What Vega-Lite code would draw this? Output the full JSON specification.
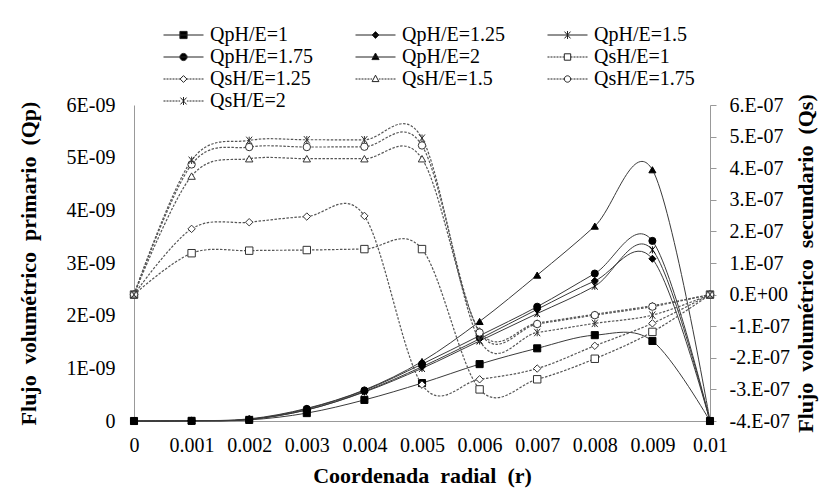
{
  "$schema": "https://vega.github.io/schema/vega-lite/v6.json",
  "width": 576,
  "height": 316,
  "autosize": {"type": "none"},
  "padding": {"left": 134, "top": 105, "right": 114, "bottom": 74},
  "background": "white",
  "config": {
    "font": "Liberation Serif",
    "view": {"stroke": null},
    "axis": {
      "labelFont": "Liberation Serif", "labelFontSize": 20, "labelColor": "#000",
      "titleFont": "Liberation Serif", "titleFontSize": 22, "titleFontWeight": "bold", "titleColor": "#000",
      "grid": false, "domainColor": "#999", "tickColor": "#999", "labelFlush": false, "labelOverlap": false
    }
  },
  "data": {"values": [
    {"r":0,"s":"QpH/E=1","t":"Qp","q":0},{"r":0.001,"s":"QpH/E=1","t":"Qp","q":3e-12},{"r":0.002,"s":"QpH/E=1","t":"Qp","q":2e-11},{"r":0.003,"s":"QpH/E=1","t":"Qp","q":1.5e-10},{"r":0.004,"s":"QpH/E=1","t":"Qp","q":4.0e-10},{"r":0.005,"s":"QpH/E=1","t":"Qp","q":7.2e-10},{"r":0.006,"s":"QpH/E=1","t":"Qp","q":1.08e-9},{"r":0.007,"s":"QpH/E=1","t":"Qp","q":1.38e-9},{"r":0.008,"s":"QpH/E=1","t":"Qp","q":1.63e-9},{"r":0.009,"s":"QpH/E=1","t":"Qp","q":1.52e-9},{"r":0.01,"s":"QpH/E=1","t":"Qp","q":0},
    {"r":0,"s":"QpH/E=1.25","t":"Qp","q":0},{"r":0.001,"s":"QpH/E=1.25","t":"Qp","q":4e-12},{"r":0.002,"s":"QpH/E=1.25","t":"Qp","q":3e-11},{"r":0.003,"s":"QpH/E=1.25","t":"Qp","q":2.1e-10},{"r":0.004,"s":"QpH/E=1.25","t":"Qp","q":5.6e-10},{"r":0.005,"s":"QpH/E=1.25","t":"Qp","q":1.03e-9},{"r":0.006,"s":"QpH/E=1.25","t":"Qp","q":1.56e-9},{"r":0.007,"s":"QpH/E=1.25","t":"Qp","q":2.12e-9},{"r":0.008,"s":"QpH/E=1.25","t":"Qp","q":2.66e-9},{"r":0.009,"s":"QpH/E=1.25","t":"Qp","q":3.08e-9},{"r":0.01,"s":"QpH/E=1.25","t":"Qp","q":0},
    {"r":0,"s":"QpH/E=1.5","t":"Qp","q":0},{"r":0.001,"s":"QpH/E=1.5","t":"Qp","q":4e-12},{"r":0.002,"s":"QpH/E=1.5","t":"Qp","q":3e-11},{"r":0.003,"s":"QpH/E=1.5","t":"Qp","q":2.1e-10},{"r":0.004,"s":"QpH/E=1.5","t":"Qp","q":5.5e-10},{"r":0.005,"s":"QpH/E=1.5","t":"Qp","q":1.0e-9},{"r":0.006,"s":"QpH/E=1.5","t":"Qp","q":1.52e-9},{"r":0.007,"s":"QpH/E=1.5","t":"Qp","q":2.04e-9},{"r":0.008,"s":"QpH/E=1.5","t":"Qp","q":2.56e-9},{"r":0.009,"s":"QpH/E=1.5","t":"Qp","q":3.25e-9},{"r":0.01,"s":"QpH/E=1.5","t":"Qp","q":0},
    {"r":0,"s":"QpH/E=1.75","t":"Qp","q":0},{"r":0.001,"s":"QpH/E=1.75","t":"Qp","q":4e-12},{"r":0.002,"s":"QpH/E=1.75","t":"Qp","q":3e-11},{"r":0.003,"s":"QpH/E=1.75","t":"Qp","q":2.3e-10},{"r":0.004,"s":"QpH/E=1.75","t":"Qp","q":5.8e-10},{"r":0.005,"s":"QpH/E=1.75","t":"Qp","q":1.08e-9},{"r":0.006,"s":"QpH/E=1.75","t":"Qp","q":1.62e-9},{"r":0.007,"s":"QpH/E=1.75","t":"Qp","q":2.17e-9},{"r":0.008,"s":"QpH/E=1.75","t":"Qp","q":2.80e-9},{"r":0.009,"s":"QpH/E=1.75","t":"Qp","q":3.42e-9},{"r":0.01,"s":"QpH/E=1.75","t":"Qp","q":0},
    {"r":0,"s":"QpH/E=2","t":"Qp","q":0},{"r":0.001,"s":"QpH/E=2","t":"Qp","q":5e-12},{"r":0.002,"s":"QpH/E=2","t":"Qp","q":4e-11},{"r":0.003,"s":"QpH/E=2","t":"Qp","q":2.4e-10},{"r":0.004,"s":"QpH/E=2","t":"Qp","q":5.9e-10},{"r":0.005,"s":"QpH/E=2","t":"Qp","q":1.13e-9},{"r":0.006,"s":"QpH/E=2","t":"Qp","q":1.89e-9},{"r":0.007,"s":"QpH/E=2","t":"Qp","q":2.77e-9},{"r":0.008,"s":"QpH/E=2","t":"Qp","q":3.70e-9},{"r":0.009,"s":"QpH/E=2","t":"Qp","q":4.77e-9},{"r":0.01,"s":"QpH/E=2","t":"Qp","q":0},
    {"r":0,"s":"QsH/E=1","t":"Qs","q":0},{"r":0.001,"s":"QsH/E=1","t":"Qs","q":1.31e-7},{"r":0.002,"s":"QsH/E=1","t":"Qs","q":1.39e-7},{"r":0.003,"s":"QsH/E=1","t":"Qs","q":1.41e-7},{"r":0.004,"s":"QsH/E=1","t":"Qs","q":1.44e-7},{"r":0.005,"s":"QsH/E=1","t":"Qs","q":1.44e-7},{"r":0.006,"s":"QsH/E=1","t":"Qs","q":-3.0e-7},{"r":0.007,"s":"QsH/E=1","t":"Qs","q":-2.68e-7},{"r":0.008,"s":"QsH/E=1","t":"Qs","q":-2.03e-7},{"r":0.009,"s":"QsH/E=1","t":"Qs","q":-1.18e-7},{"r":0.01,"s":"QsH/E=1","t":"Qs","q":0},
    {"r":0,"s":"QsH/E=1.25","t":"Qs","q":0},{"r":0.001,"s":"QsH/E=1.25","t":"Qs","q":2.08e-7},{"r":0.002,"s":"QsH/E=1.25","t":"Qs","q":2.29e-7},{"r":0.003,"s":"QsH/E=1.25","t":"Qs","q":2.47e-7},{"r":0.004,"s":"QsH/E=1.25","t":"Qs","q":2.49e-7},{"r":0.005,"s":"QsH/E=1.25","t":"Qs","q":-2.85e-7},{"r":0.006,"s":"QsH/E=1.25","t":"Qs","q":-2.68e-7},{"r":0.007,"s":"QsH/E=1.25","t":"Qs","q":-2.34e-7},{"r":0.008,"s":"QsH/E=1.25","t":"Qs","q":-1.62e-7},{"r":0.009,"s":"QsH/E=1.25","t":"Qs","q":-0.91e-7},{"r":0.01,"s":"QsH/E=1.25","t":"Qs","q":0},
    {"r":0,"s":"QsH/E=1.5","t":"Qs","q":0},{"r":0.001,"s":"QsH/E=1.5","t":"Qs","q":3.75e-7},{"r":0.002,"s":"QsH/E=1.5","t":"Qs","q":4.30e-7},{"r":0.003,"s":"QsH/E=1.5","t":"Qs","q":4.30e-7},{"r":0.004,"s":"QsH/E=1.5","t":"Qs","q":4.30e-7},{"r":0.005,"s":"QsH/E=1.5","t":"Qs","q":4.30e-7},{"r":0.006,"s":"QsH/E=1.5","t":"Qs","q":-1.15e-7},{"r":0.007,"s":"QsH/E=1.5","t":"Qs","q":-0.90e-7},{"r":0.008,"s":"QsH/E=1.5","t":"Qs","q":-0.62e-7},{"r":0.009,"s":"QsH/E=1.5","t":"Qs","q":-0.35e-7},{"r":0.01,"s":"QsH/E=1.5","t":"Qs","q":0},
    {"r":0,"s":"QsH/E=1.75","t":"Qs","q":0},{"r":0.001,"s":"QsH/E=1.75","t":"Qs","q":4.12e-7},{"r":0.002,"s":"QsH/E=1.75","t":"Qs","q":4.67e-7},{"r":0.003,"s":"QsH/E=1.75","t":"Qs","q":4.67e-7},{"r":0.004,"s":"QsH/E=1.75","t":"Qs","q":4.68e-7},{"r":0.005,"s":"QsH/E=1.75","t":"Qs","q":4.72e-7},{"r":0.006,"s":"QsH/E=1.75","t":"Qs","q":-1.20e-7},{"r":0.007,"s":"QsH/E=1.75","t":"Qs","q":-0.93e-7},{"r":0.008,"s":"QsH/E=1.75","t":"Qs","q":-0.65e-7},{"r":0.009,"s":"QsH/E=1.75","t":"Qs","q":-0.38e-7},{"r":0.01,"s":"QsH/E=1.75","t":"Qs","q":0},
    {"r":0,"s":"QsH/E=2","t":"Qs","q":0},{"r":0.001,"s":"QsH/E=2","t":"Qs","q":4.25e-7},{"r":0.002,"s":"QsH/E=2","t":"Qs","q":4.88e-7},{"r":0.003,"s":"QsH/E=2","t":"Qs","q":4.90e-7},{"r":0.004,"s":"QsH/E=2","t":"Qs","q":4.90e-7},{"r":0.005,"s":"QsH/E=2","t":"Qs","q":4.95e-7},{"r":0.006,"s":"QsH/E=2","t":"Qs","q":-1.45e-7},{"r":0.007,"s":"QsH/E=2","t":"Qs","q":-1.20e-7},{"r":0.008,"s":"QsH/E=2","t":"Qs","q":-0.91e-7},{"r":0.009,"s":"QsH/E=2","t":"Qs","q":-0.65e-7},{"r":0.01,"s":"QsH/E=2","t":"Qs","q":0}
  ]},
  "layer": [
    {
      "transform": [{"filter": "datum.t === 'Qp'"}],
      "encoding": {
        "x": {"field": "r", "type": "quantitative",
          "scale": {"domain": [0, 0.01], "nice": false, "zero": false},
          "axis": {"values": [0,0.001,0.002,0.003,0.004,0.005,0.006,0.007,0.008,0.009,0.01], "format": "~g", "ticks": false, "labelPadding": 14, "title": "Coordenada\u00a0 radial\u00a0 (r)", "titlePadding": 10}},
        "y": {"field": "q", "type": "quantitative",
          "scale": {"domain": [0, 6e-9], "nice": false, "zero": false},
          "axis": {"orient": "left", "values": [0,1e-9,2e-9,3e-9,4e-9,5e-9,6e-9], "labelExpr": "datum.value == 0 ? '0' : round(datum.value*1e9) + 'E-09'", "ticks": false, "labelPadding": 19, "title": "Flujo\u00a0 volumétrico\u00a0 primario\u00a0 (Qp)", "titlePadding": 26}}
      },
      "layer": [
        {"mark": {"type": "line", "interpolate": "cardinal", "tension": 0, "color": "#3a3a3a", "strokeWidth": 1},
         "encoding": {"detail": {"field": "s", "type": "nominal"}}},
        {"mark": {"type": "point", "filled": true, "fill": "#000", "stroke": "#000", "strokeWidth": 1, "opacity": 1, "size": 50},
         "encoding": {"shape": {"field": "s", "type": "nominal",
           "scale": {"domain": ["QpH/E=1","QpH/E=1.25","QpH/E=1.5","QpH/E=1.75","QpH/E=2"],
                     "range": ["square","diamond","M-0.8,-1L0.8,1M-0.8,1L0.8,-1M0,-1V1","circle","triangle-up"]},
           "legend": null}}}
      ]
    },
    {
      "transform": [{"filter": "datum.t === 'Qs'"}],
      "encoding": {
        "x": {"field": "r", "type": "quantitative",
          "scale": {"domain": [0, 0.01], "nice": false, "zero": false},
          "axis": {"values": [0,0.001,0.002,0.003,0.004,0.005,0.006,0.007,0.008,0.009,0.01], "format": "~g", "ticks": false, "labelPadding": 14, "title": "Coordenada\u00a0 radial\u00a0 (r)", "titlePadding": 10}},
        "y": {"field": "q", "type": "quantitative",
          "scale": {"domain": [-4e-7, 6e-7], "nice": false, "zero": false},
          "axis": {"orient": "right", "values": [-4e-7,-3e-7,-2e-7,-1e-7,0,1e-7,2e-7,3e-7,4e-7,5e-7,6e-7], "labelExpr": "datum.value == 0 ? '0.E+00' : round(datum.value*1e7) + '.E-07'", "ticks": true, "tickSize": 6, "labelPadding": 13, "title": "Flujo\u00a0 volumétrico\u00a0 secundario\u00a0 (Qs)", "titleAngle": 270, "titleBaseline": "top", "titlePadding": 6}}
      },
      "layer": [
        {"mark": {"type": "line", "interpolate": "cardinal", "tension": 0, "color": "#555", "strokeWidth": 1.2, "strokeDash": [2.5, 1.5]},
         "encoding": {"detail": {"field": "s", "type": "nominal"}}},
        {"mark": {"type": "point", "filled": true, "fill": "#fff", "stroke": "#333", "strokeWidth": 1, "opacity": 1, "size": 55},
         "encoding": {"shape": {"field": "s", "type": "nominal",
           "scale": {"domain": ["QsH/E=1","QsH/E=1.25","QsH/E=1.5","QsH/E=1.75","QsH/E=2"],
                     "range": ["square","diamond","triangle-up","circle","M-0.8,-1L0.8,1M-0.8,1L0.8,-1M0,-1V1"]},
           "legend": null}}},
        {"transform": [{"filter": "false"}],
         "mark": {"type": "point", "filled": false, "stroke": "#222", "strokeWidth": 1, "opacity": 1, "size": 1600},
         "encoding": {
           "shape": {"field": "s", "type": "nominal",
             "scale": {"domain": ["QpH/E=1","QpH/E=1.25","QpH/E=1.5","QpH/E=1.75","QpH/E=2","QsH/E=1","QsH/E=1.25","QsH/E=1.5","QsH/E=1.75","QsH/E=2"],
               "range": [
                 "M-1,0H1M-0.18,-0.18H0.18V0.18H-0.18Z",
                 "M-1,0H1M0,-0.17L0.17,0L0,0.17L-0.17,0Z",
                 "M-1,0H1M-0.15,-0.17L0.15,0.17M-0.15,0.17L0.15,-0.17M0,-0.2V0.2",
                 "M-1,0H1M-0.18,0A0.18,0.18,0,1,0,0.18,0A0.18,0.18,0,1,0,-0.18,0Z",
                 "M-1,0H1M0,-0.2L0.18,0.13H-0.18Z",
                 "M-1,0H-0.9M-0.85,0H-0.75M-0.7,0H-0.6M-0.55,0H-0.45M-0.4,0H-0.3M-0.25,0H-0.17M0.17,0H0.25M0.3,0H0.4M0.45,0H0.55M0.6,0H0.7M0.75,0H0.85M0.9,0H1M-0.16,-0.16H0.16V0.16H-0.16Z",
                 "M-1,0H-0.9M-0.85,0H-0.75M-0.7,0H-0.6M-0.55,0H-0.45M-0.4,0H-0.3M-0.25,0H-0.17M0.17,0H0.25M0.3,0H0.4M0.45,0H0.55M0.6,0H0.7M0.75,0H0.85M0.9,0H1M0,-0.17L0.17,0L0,0.17L-0.17,0Z",
                 "M-1,0H-0.9M-0.85,0H-0.75M-0.7,0H-0.6M-0.55,0H-0.45M-0.4,0H-0.3M-0.25,0H-0.17M0.17,0H0.25M0.3,0H0.4M0.45,0H0.55M0.6,0H0.7M0.75,0H0.85M0.9,0H1M0,-0.19L0.17,0.13H-0.17Z",
                 "M-1,0H-0.9M-0.85,0H-0.75M-0.7,0H-0.6M-0.55,0H-0.45M-0.4,0H-0.3M-0.25,0H-0.17M0.17,0H0.25M0.3,0H0.4M0.45,0H0.55M0.6,0H0.7M0.75,0H0.85M0.9,0H1M-0.16,0A0.16,0.16,0,1,0,0.16,0A0.16,0.16,0,1,0,-0.16,0Z",
                 "M-1,0H-0.9M-0.85,0H-0.75M-0.7,0H-0.6M-0.55,0H-0.45M-0.4,0H-0.3M-0.25,0H-0.17M0.17,0H0.25M0.3,0H0.4M0.45,0H0.55M0.6,0H0.7M0.75,0H0.85M0.9,0H1M-0.15,-0.17L0.15,0.17M-0.15,0.17L0.15,-0.17M0,-0.2V0.2"
               ]},
             "legend": {"orient": "none", "legendX": 29, "legendY": -80, "columns": 3, "direction": "horizontal", "title": null, "symbolSize": 1600, "clipHeight": 20, "rowPadding": 2, "columnPadding": 42, "gridAlign": "all", "labelFont": "Liberation Serif", "labelFontSize": 20, "labelColor": "#000", "labelOffset": 6, "symbolStrokeWidth": 1, "symbolStrokeColor": "#222", "symbolOpacity": 1, "labelLimit": 200,
               "encoding": {"symbols": {"stroke": {"value": "#222"}, "strokeWidth": {"value": 1}, "opacity": {"value": 1}}}}},
           "fill": {"field": "s", "type": "nominal",
             "scale": {"domain": ["QpH/E=1","QpH/E=1.25","QpH/E=1.5","QpH/E=1.75","QpH/E=2","QsH/E=1","QsH/E=1.25","QsH/E=1.5","QsH/E=1.75","QsH/E=2"],
               "range": ["#000","#000","#000","#000","#000","#fff","#fff","#fff","#fff","#fff"]},
             "legend": {"orient": "none", "legendX": 29, "legendY": -80, "columns": 3, "direction": "horizontal", "title": null, "symbolSize": 1600, "clipHeight": 20, "rowPadding": 2, "columnPadding": 42, "gridAlign": "all", "labelFont": "Liberation Serif", "labelFontSize": 20, "labelColor": "#000", "labelOffset": 6, "symbolStrokeWidth": 1, "symbolStrokeColor": "#222", "symbolOpacity": 1, "labelLimit": 200,
               "encoding": {"symbols": {"stroke": {"value": "#222"}, "strokeWidth": {"value": 1}, "opacity": {"value": 1}}}}}
         }}
      ],
      "resolve": {"scale": {"shape": "independent", "fill": "independent"}}
    }
  ],
  "resolve": {"scale": {"y": "independent", "shape": "independent", "fill": "independent"}}
}
